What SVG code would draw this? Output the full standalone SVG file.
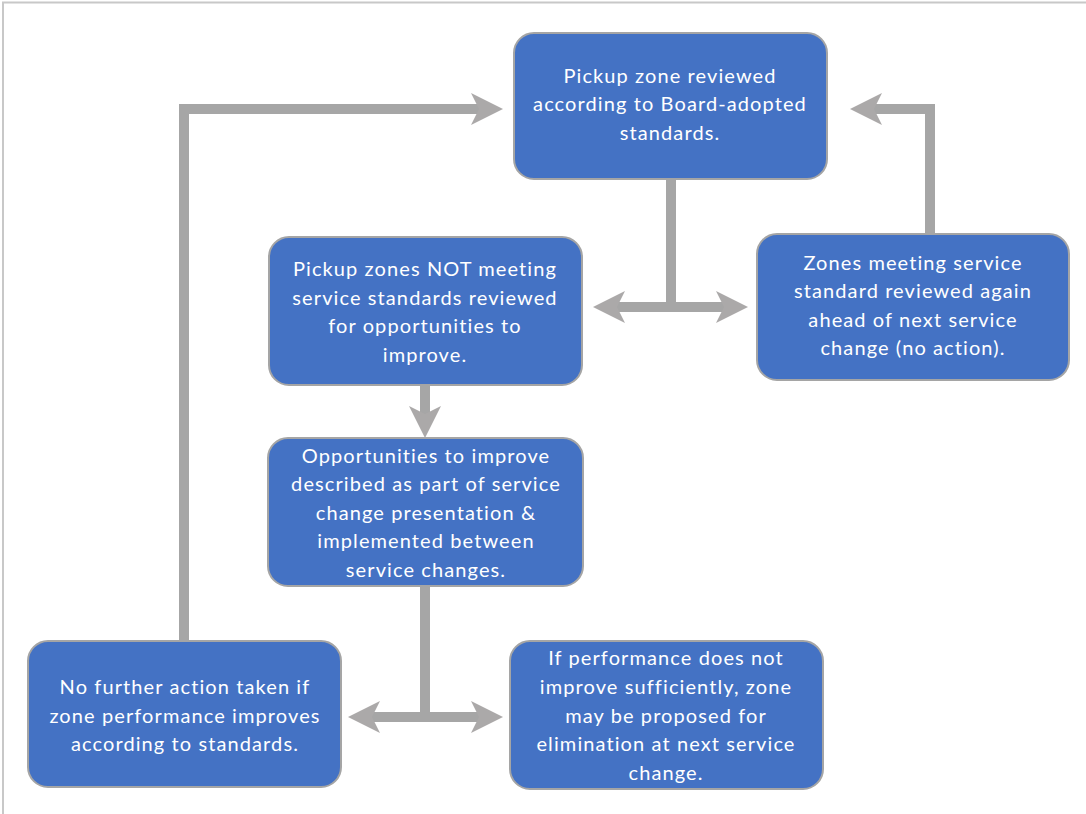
<svg xmlns="http://www.w3.org/2000/svg" width="1086" height="814" viewBox="0 0 1086 814">
<style>
.node rect{fill:#4472C4;stroke:#A5A5A5;stroke-width:2}
.node text{fill:#FFFFFF;font-family:Lato,"Liberation Sans",sans-serif;font-size:20px;text-anchor:middle;letter-spacing:1.1px}
.conn path{fill:none;stroke:#A6A6A6;stroke-width:10}
</style>
<defs>
<marker id="ah" markerUnits="userSpaceOnUse" viewBox="0 0 32 32" markerWidth="32" markerHeight="32" refX="20" refY="16" orient="auto-start-reverse">
<path d="M0,0 L32,16 L0,32 L8,16 z" fill="#ABA9A9"/>
</marker>
</defs>
<rect x="0" y="0" width="1086" height="814" fill="#FFFFFF"/>
<path d="M3,814 V2.5 H1086" fill="none" stroke="#C8C8C8" stroke-width="2"/>
<g class="conn">
<path d="M184,641 V109 H491" marker-end="url(#ah)"/>
<path d="M671,179 V307"/>
<path d="M605,307 H736" marker-start="url(#ah)" marker-end="url(#ah)"/>
<path d="M930,234 V109 H862" marker-end="url(#ah)"/>
<path d="M425,385 V426" marker-end="url(#ah)"/>
<path d="M425,586 V717"/>
<path d="M360,717 H491" marker-start="url(#ah)" marker-end="url(#ah)"/>
</g>
<g id="n1" class="node"><rect x="514" y="33" width="313" height="146" rx="20"/>
<text x="670" y="83">Pickup zone reviewed</text><text x="670" y="111">according to Board-adopted</text><text x="670" y="140">standards.</text></g>
<g id="n2" class="node"><rect x="269" y="237" width="313" height="148" rx="20"/>
<text x="425" y="276">Pickup zones NOT meeting</text><text x="425" y="305">service standards reviewed</text><text x="425" y="333">for opportunities to</text><text x="425" y="362">improve.</text></g>
<g id="n3" class="node"><rect x="757" y="234" width="312" height="146" rx="20"/>
<text x="913" y="270">Zones meeting service</text><text x="913" y="298">standard reviewed again</text><text x="913" y="327">ahead of next service</text><text x="913" y="355">change (no action).</text></g>
<g id="n4" class="node"><rect x="268" y="438" width="315" height="148" rx="20"/>
<text x="426" y="463">Opportunities to improve</text><text x="426" y="491">described as part of service</text><text x="426" y="520">change presentation &amp;</text><text x="426" y="548">implemented between</text><text x="426" y="577">service changes.</text></g>
<g id="n5" class="node"><rect x="28" y="641" width="313" height="146" rx="20"/>
<text x="185" y="694">No further action taken if</text><text x="185" y="723">zone performance improves</text><text x="185" y="751">according to standards.</text></g>
<g id="n6" class="node"><rect x="510" y="641" width="313" height="148" rx="20"/>
<text x="666" y="665">If performance does not</text><text x="666" y="694">improve sufficiently, zone</text><text x="666" y="723">may be proposed for</text><text x="666" y="751">elimination at next service</text><text x="666" y="780">change.</text></g>
</svg>
